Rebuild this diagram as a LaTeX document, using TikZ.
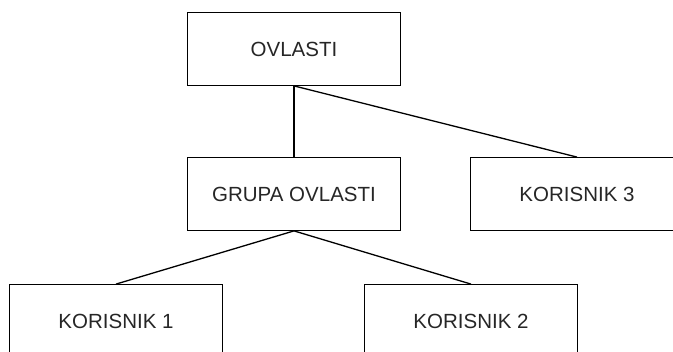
\documentclass[tikz,border=0pt]{standalone}
\usepackage{fontspec}
\setmainfont{Liberation Sans}

\tikzset{
	box/.style={draw, line width=1.3pt, minimum width=213pt, minimum height=72.5pt, inner sep=0pt, font=\fontsize{20.5}{23}\selectfont, text=black!85}
}

\begin{document}
\begin{tikzpicture}[x=1pt, y=-1pt]
	\useasboundingbox (0,0) rectangle (673,352);
	\node[box] (OV) at (294,49) {OVLASTI};
	\node[box] (GR) at (294,194) {GRUPA OVLASTI};
	\node[box] (K3) at (577,194) {KORISNIK 3};
	\node[box] (K1) at (116,321) {KORISNIK 1};
	\node[box] (K2) at (471,321) {KORISNIK 2};
	\draw[line width=1.3pt] (OV.south) -- (GR.north);
	\draw[line width=1.3pt] (OV.south) -- (K3.north);
	\draw[line width=1.3pt] (GR.south) -- (K1.north);
	\draw[line width=1.3pt] (GR.south) -- (K2.north);
\end{tikzpicture}
\end{document}
